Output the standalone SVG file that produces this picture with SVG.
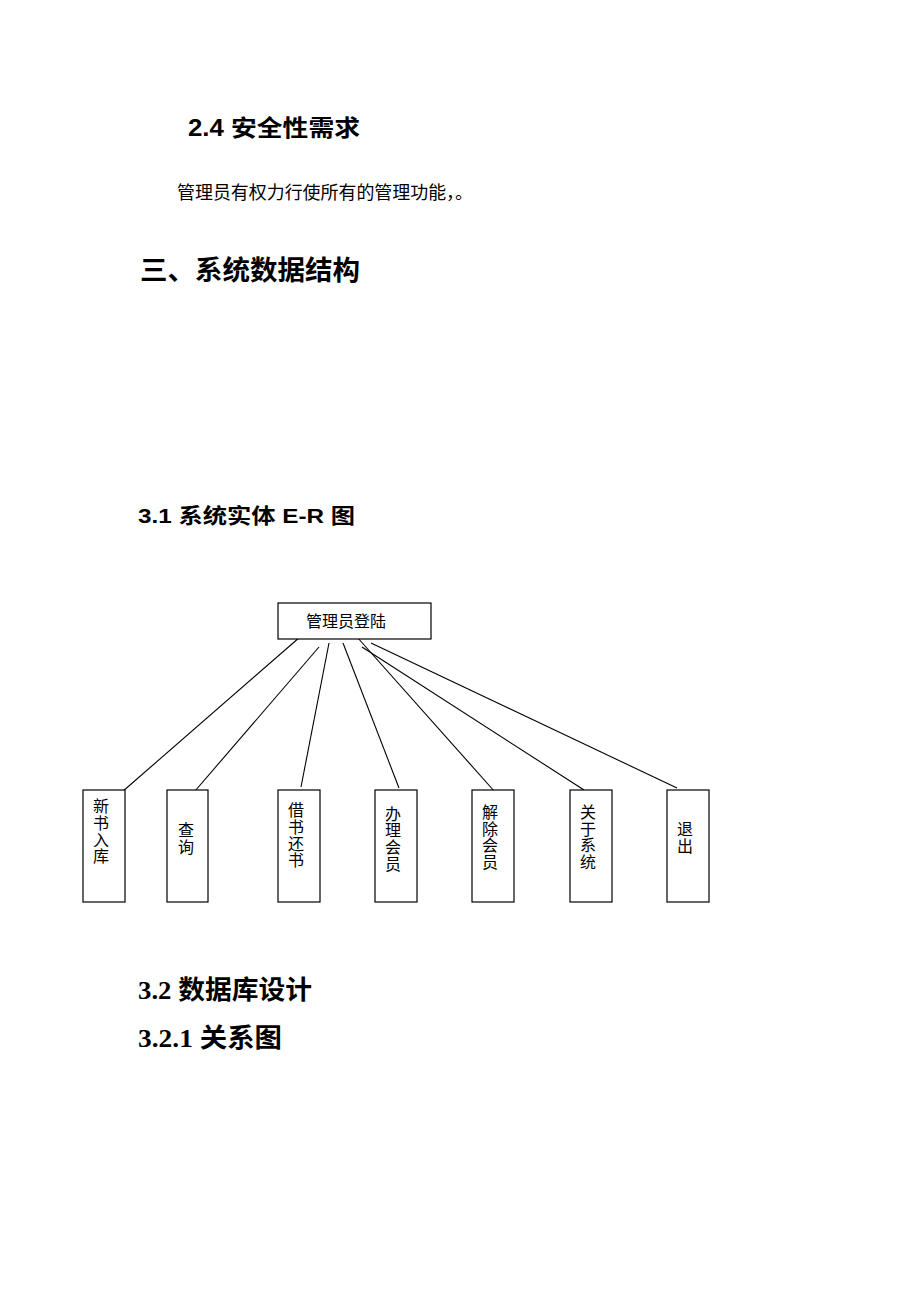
<svg xmlns="http://www.w3.org/2000/svg" width="920" height="1302" viewBox="0 0 920 1302">
<style>
.h{font-family:"Liberation Sans","Noto Sans CJK SC",sans-serif;font-weight:bold;fill:#000}
.hs{font-family:"Liberation Serif","Noto Sans CJK SC",serif;font-weight:bold;fill:#000}
.b{font-family:"Liberation Serif","Noto Sans CJK SC",serif;fill:#000}
.box{fill:#fff;stroke:#000;stroke-width:1.2}
.lbl{font-family:"Liberation Serif","Noto Sans CJK SC",serif;font-size:16px;fill:#000;text-anchor:middle}
.con line{stroke:#000;stroke-width:1.1}
</style>
<rect width="920" height="1302" fill="#fff"/>
<text class="h" x="188" y="136" font-size="23" textLength="172" lengthAdjust="spacingAndGlyphs">2.4 安全性需求</text>
<text class="b" x="177" y="199" font-size="18" textLength="296" lengthAdjust="spacingAndGlyphs">管理员有权力行使所有的管理功能，。</text>
<text class="h" x="140" y="280" font-size="27" textLength="220" lengthAdjust="spacingAndGlyphs">三、系统数据结构</text>
<text class="h" x="138" y="523" font-size="21" textLength="217" lengthAdjust="spacingAndGlyphs">3.1 系统实体 E-R 图</text>
<text class="hs" x="138" y="999" font-size="26" textLength="174" lengthAdjust="spacingAndGlyphs">3.2 数据库设计</text>
<text class="hs" x="138" y="1047" font-size="26" textLength="144" lengthAdjust="spacingAndGlyphs">3.2.1 关系图</text>
<g class="con" id="connectors">
<line x1="300" y1="637" x2="122" y2="792"/>
<line x1="319" y1="647" x2="195" y2="791"/>
<line x1="329" y1="643" x2="301" y2="787"/>
<line x1="343" y1="643" x2="399" y2="788"/>
<line x1="357" y1="637" x2="495" y2="792"/>
<line x1="362" y1="647" x2="584" y2="790"/>
<line x1="371" y1="643" x2="677" y2="788"/>
</g>
<g id="root">
<rect class="box" x="278" y="603" width="153" height="36"/>
<text class="b" x="346" y="627" font-size="16" text-anchor="middle">管理员登陆</text>
</g>
<g id="n1">
<rect class="box" x="83" y="790" width="42" height="112"/>
<text class="lbl"><tspan x="101" y="812">新</tspan><tspan x="101" y="829">书</tspan><tspan x="101" y="845.5">入</tspan><tspan x="101" y="862">库</tspan></text>
</g>
<g id="n2">
<rect class="box" x="167" y="790" width="41" height="112"/>
<text class="lbl"><tspan x="186" y="836">查</tspan><tspan x="186" y="853">询</tspan></text>
</g>
<g id="n3">
<rect class="box" x="278" y="790" width="42" height="112"/>
<text class="lbl"><tspan x="296" y="816">借</tspan><tspan x="296" y="833">书</tspan><tspan x="296" y="849.5">还</tspan><tspan x="296" y="866">书</tspan></text>
</g>
<g id="n4">
<rect class="box" x="375" y="790" width="42" height="112"/>
<text class="lbl"><tspan x="393" y="819.5">办</tspan><tspan x="393" y="836">理</tspan><tspan x="393" y="853">会</tspan><tspan x="393" y="869.5">员</tspan></text>
</g>
<g id="n5">
<rect class="box" x="472" y="790" width="42" height="112"/>
<text class="lbl"><tspan x="490" y="818">解</tspan><tspan x="490" y="834.5">除</tspan><tspan x="490" y="851">会</tspan><tspan x="490" y="868">员</tspan></text>
</g>
<g id="n6">
<rect class="box" x="570" y="790" width="42" height="112"/>
<text class="lbl"><tspan x="588" y="818">关</tspan><tspan x="588" y="834.5">于</tspan><tspan x="588" y="851">系</tspan><tspan x="588" y="868">统</tspan></text>
</g>
<g id="n7">
<rect class="box" x="667" y="790" width="42" height="112"/>
<text class="lbl"><tspan x="685" y="834.5">退</tspan><tspan x="685" y="852">出</tspan></text>
</g>
</svg>
